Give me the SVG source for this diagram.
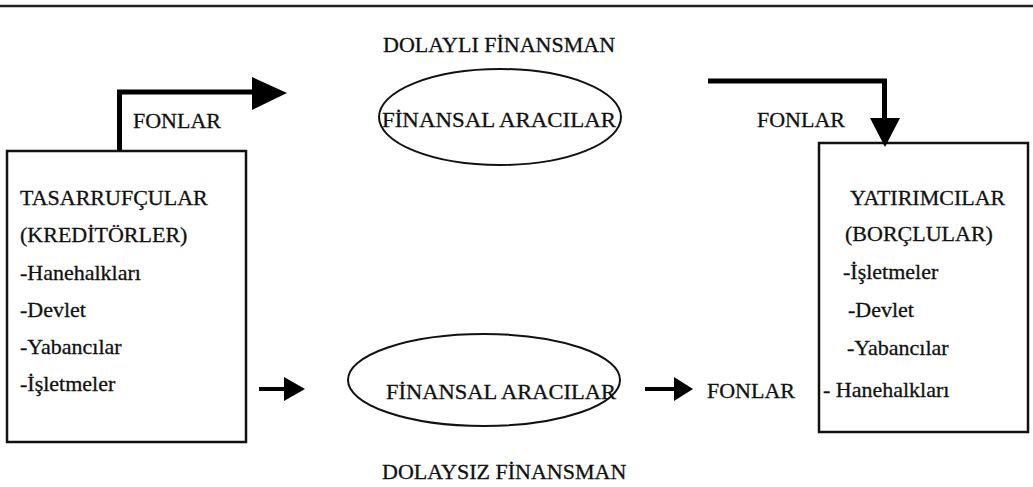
<svg xmlns="http://www.w3.org/2000/svg" width="1033" height="487" viewBox="0 0 1033 487">
<style>
text{font-family:"Liberation Serif","Times New Roman",serif;font-size:22px;fill:#111;stroke:#111;stroke-width:0.3}
.box{fill:none;stroke:#111;stroke-width:2.5}
.ell{fill:none;stroke:#111;stroke-width:2}
.thick{fill:none;stroke:#000;stroke-width:5}
.thin{fill:none;stroke:#000;stroke-width:4}
.head{fill:#000}
</style>
<rect width="1033" height="487" fill="#fff"/>
<line x1="0" y1="6" x2="1033" y2="6" stroke="#222" stroke-width="2.5"/>
<text x="383" y="52">DOLAYLI FİNANSMAN</text>
<text x="382" y="479">DOLAYSIZ FİNANSMAN</text>
<g id="tasarrufcular">
<rect class="box" x="7" y="151" width="239" height="291"/>
<text x="20" y="205">TASARRUFÇULAR</text>
<text x="20" y="242">(KREDİTÖRLER)</text>
<text x="20" y="280">-Hanehalkları</text>
<text x="20" y="317">-Devlet</text>
<text x="20" y="354">-Yabancılar</text>
<text x="20" y="391">-İşletmeler</text>
</g>
<g id="yatirimcilar">
<rect class="box" x="819" y="143" width="209" height="289"/>
<text x="850" y="205">YATIRIMCILAR</text>
<text x="845" y="241">(BORÇLULAR)</text>
<text x="843" y="279">-İşletmeler</text>
<text x="848" y="317">-Devlet</text>
<text x="847" y="355">-Yabancılar</text>
<text x="823" y="397">- Hanehalkları</text>
</g>
<g id="aracilar-dolayli">
<ellipse class="ell" cx="500" cy="117" rx="121" ry="48"/>
<text x="382" y="127" textLength="234" lengthAdjust="spacingAndGlyphs">FİNANSAL ARACILAR</text>
</g>
<g id="aracilar-dolaysiz">
<ellipse class="ell" cx="484" cy="380" rx="136" ry="46"/>
<text x="386" y="399" textLength="230" lengthAdjust="spacingAndGlyphs">FİNANSAL ARACILAR</text>
</g>
<g id="connectors">
<polyline class="thick" points="119.5,151 119.5,92 254,92"/>
<polygon class="head" points="252,77 287,93 252,110"/>
<polyline class="thick" points="708,81 884.5,81 884.5,119"/>
<polygon class="head" points="870,118 900,118 885,147"/>
<line class="thin" x1="259" y1="389" x2="287" y2="389"/>
<polygon class="head" points="284,377 305,389 284,401"/>
<line class="thin" x1="645" y1="389" x2="677" y2="389"/>
<polygon class="head" points="674,377 693,389 674,401"/>
<text x="133" y="128">FONLAR</text>
<text x="757" y="127">FONLAR</text>
<text x="707" y="398">FONLAR</text>
</g>
</svg>
